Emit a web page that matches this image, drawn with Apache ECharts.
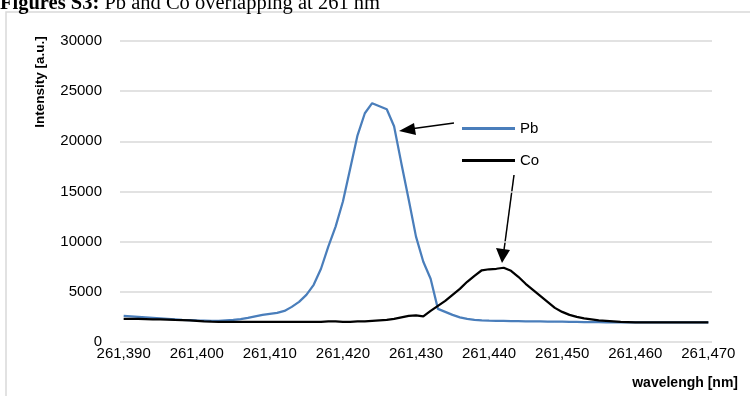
<!DOCTYPE html>
<html>
<head>
<meta charset="utf-8">
<script src="https://cdn.jsdelivr.net/npm/echarts@6/dist/echarts.min.js"></script>
<style>html,body{margin:0;padding:0;background:#fff}#c{width:750px;height:396px}</style>
</head>
<body>
<div id="c"></div>
<script>
// wavelengths 261.390 .. 261.470 step 0.001
const wavelengths = [];
for (let k = 0; k <= 80; k++) wavelengths.push((261390 + k) / 1000);

const pbValues = [
  2600, 2550, 2500, 2450, 2400, 2350, 2300, 2250, 2200, 2180,
  2150, 2130, 2110, 2100, 2150, 2200, 2280, 2400, 2550, 2700,
  2800, 2900, 3100, 3500, 4000, 4700, 5700, 7300, 9500, 11500,
  14000, 17300, 20600, 22800, 23800, 23500, 23200, 21500, 17800, 14200,
  10500, 8000, 6300, 3300, 3000, 2700, 2450, 2300, 2200, 2150,
  2120, 2100, 2100, 2080, 2080, 2060, 2050, 2050, 2040, 2030,
  2020, 2000, 2000, 1990, 1980, 1970, 1960, 1960, 1950, 1950,
  1950, 1950, 1950, 1950, 1950, 1950, 1950, 1950, 1950, 1950,
  1950
];
const coValues = [
  2300, 2300, 2300, 2280, 2260, 2250, 2230, 2200, 2180, 2150,
  2100, 2050, 2020, 2000, 2000, 2000, 2000, 2000, 2000, 2000,
  2000, 2000, 2000, 2000, 2000, 2000, 2000, 2000, 2050, 2050,
  2000, 2000, 2050, 2050, 2100, 2150, 2200, 2300, 2450, 2600,
  2650, 2550, 3100, 3600, 4100, 4700, 5300, 6000, 6600, 7150,
  7250, 7300, 7400, 7100, 6500, 5800, 5200, 4600, 4000, 3400,
  3000, 2700, 2500, 2350, 2250, 2150, 2100, 2050, 2000, 1980,
  1960, 1950, 1950, 1950, 1950, 1950, 1950, 1950, 1950, 1950,
  1950
];
const seriesNames = ['Pb', 'Co'];
const yTicks = [0, 5000, 10000, 15000, 20000, 25000, 30000];

const chart = echarts.init(document.getElementById('c'), null, {renderer: 'canvas'});
const font = 'Liberation Sans';
chart.setOption({
  animation: false,
  backgroundColor: '#fff',
  grid: {left: 120, right: 38, top: 41, bottom: 54, containLabel: false},
  legend: {
    orient: 'vertical', left: 457, top: 116,
    itemWidth: 53, itemHeight: 3, itemGap: 17,
    icon: 'rect',
    textStyle: {fontFamily: font, fontSize: 15, color: '#000', padding: [0,0,0,0]},
    data: seriesNames
  },
  xAxis: {
    type: 'category',
    boundaryGap: true,
    data: wavelengths.map(w => w.toFixed(3).replace('.', ',')),
    axisLine: {show: false},
    axisTick: {show: false},
    axisLabel: {interval: 9, fontFamily: font, fontSize: 15, color: '#000', margin: 4}
  },
  yAxis: {
    type: 'value', min: yTicks[0], max: yTicks[yTicks.length - 1], interval: 5000,
    axisLine: {show: false}, axisTick: {show: false},
    axisLabel: {fontFamily: font, fontSize: 15, color: '#000', margin: 18, formatter: v => String(v)},
    splitLine: {lineStyle: {color: '#d9d9d9', width: 1.5}}
  },
  series: [
    {name: seriesNames[0], type: 'line', data: pbValues, showSymbol: false,
     lineStyle: {color: '#4a7ebb', width: 2.25}, itemStyle: {color: '#4a7ebb'}, z: 2},
    {name: seriesNames[1], type: 'line', data: coValues, showSymbol: false,
     lineStyle: {color: '#000', width: 2.25}, itemStyle: {color: '#000'}, z: 3}
  ],
  graphic: [
    {type: 'rect', shape: {x: 6, y: 12, width: 800, height: 420}, silent: true, z: -10,
     style: {fill: 'none', stroke: '#d9d9d9', lineWidth: 1.5}},
    {type: 'text', left: 0, top: -7, z: 10,
     style: {text: '{b|Figures S3:} Pb and Co overlapping at 261 nm',
       rich: {b: {fontFamily: 'Liberation Serif', fontWeight: 'bold', fontSize: 20.5, fill: '#000'}},
       fontFamily: 'Liberation Serif', fontSize: 20.5, fill: '#000'}},
    {type: 'text', x: 40, y: 82, rotation: Math.PI / 2,
     style: {text: 'Intensity [a.u.]', fontFamily: font, fontWeight: 'bold', fontSize: 13.5, fill: '#000',
       align: 'center', verticalAlign: 'middle'}},
    {type: 'text', x: 738, y: 383,
     style: {text: 'wavelengh [nm]', fontFamily: font, fontWeight: 'bold', fontSize: 14, fill: '#000',
       align: 'right', verticalAlign: 'middle'}},
    // Pb arrow
    {type: 'line', shape: {x1: 454, y1: 123, x2: 410, y2: 129}, style: {stroke: '#000', lineWidth: 1.5}},
    {type: 'polygon', shape: {points: [[399, 131], [414, 123], [416, 135]]}, style: {fill: '#000'}},
    // Co arrow
    {type: 'line', shape: {x1: 514, y1: 175, x2: 504, y2: 250}, style: {stroke: '#000', lineWidth: 1.5}},
    {type: 'polygon', shape: {points: [[502, 263], [496, 248], [510, 250]]}, style: {fill: '#000'}}
  ]
});
</script>
</body>
</html>
